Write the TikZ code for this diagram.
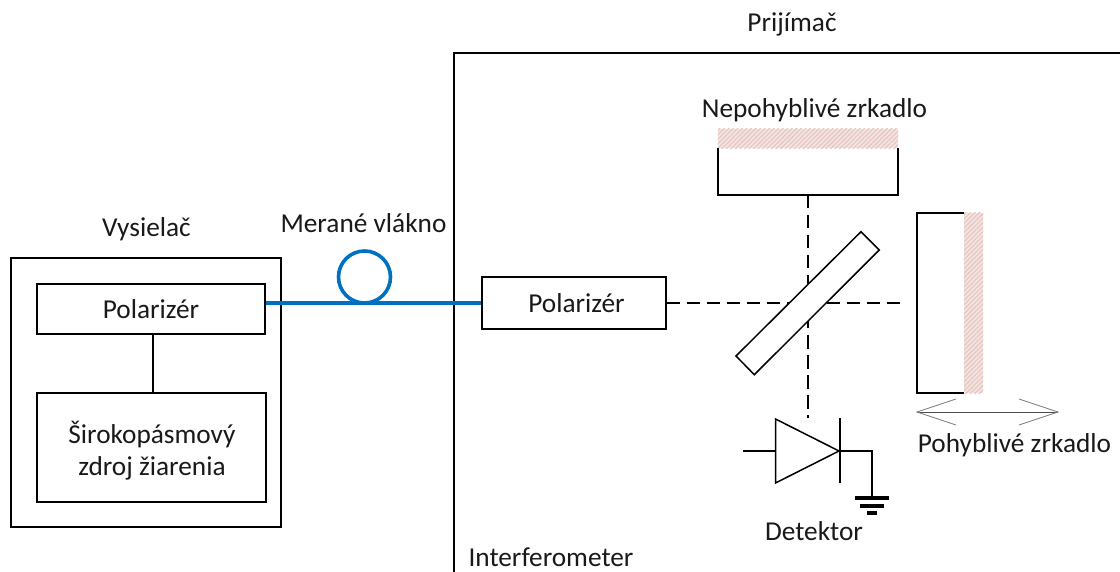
\documentclass[tikz,border=0pt]{standalone}
\usepackage{fontspec}
\setmainfont{Carlito}
\usetikzlibrary{patterns.meta,calc}
\definecolor{fiber}{HTML}{0070C0}
\definecolor{hatchc}{HTML}{F3E4E1}
\definecolor{hatchd}{HTML}{E6C4C0}
\tikzset{
  txt/.style={inner sep=0pt,align=center,font=\fontsize{27.3}{32.5}\selectfont,text=black!90},
  blk/.style={draw=black,line width=1.5pt,inner sep=0pt,align=center,font=\fontsize{27.3}{32.5}\selectfont,text=black!90},
  mirrorfill/.style={fill=hatchc,draw=none},
  mirrorhatch/.style={draw=none,pattern={Lines[angle=45,distance=3.2pt,line width=1.1pt]},pattern color=hatchd},
  beam/.style={black,line width=1.5pt,dash pattern=on 13.5pt off 6.5pt},
  wire/.style={black,line width=1.5pt},
  fib/.style={fiber,line width=3.6pt}
}
\begin{document}
\begin{tikzpicture}[x=1pt,y=-1pt]
\useasboundingbox (0,0) rectangle (1120,572);
% outer frames
\node[blk,minimum width=270pt,minimum height=269pt] (tx) at (146,392.5) {};
\draw[wire] (454,572) coordinate (ifb) -- (454,53) -- (1120,53) coordinate (ifr);
% transmitter
\node[blk,minimum width=228pt,minimum height=50pt] (pol1) at (151,309) {Polarizér};
\node[blk,minimum width=229pt,minimum height=109pt] (src) at (151.5,447.5) {};
\node[txt] (srct) at (152,450.5) {Širokopásmový\\zdroj žiarenia};
\draw[wire] (pol1.south -| 153,0) -- (src.north -| 153,0);
% receiver polarizer
\node[blk,minimum width=184pt,minimum height=52pt] (pol2) at (574,303) {};
\node[txt] (pol2t) at (576.5,303) {Polarizér};
% beams
\coordinate (fm) at (808,195);
\coordinate (det) at (808,418);
\coordinate (bh) at (905,303);
\draw[beam] (pol2.east) -- (bh);
\draw[beam] (fm) -- (det);
% splitter
\draw[wire,fill=white,line join=miter] (861,231.7) -- (879.3,250) -- (754.3,374.7) -- (736,356) -- cycle;
% fiber
\draw[fib] (pol1.east |- pol2.west) -- (pol2.west);
\draw[fib] (364.5,277) circle[radius=26];
% fixed mirror
\fill[mirrorfill] (717.5,129) rectangle (898,148.5);
\fill[mirrorhatch] (717.5,129) rectangle (898,148.5);
\draw[wire] (718,148) -- (718,195) -- (898,195) -- (898,148);
% moving mirror
\fill[mirrorfill] (964,213) rectangle (983,393);
\fill[mirrorhatch] (964,213) rectangle (983,393);
\draw[wire] (964,213) -- (917,213) -- (917,393) -- (964,393);
% motion arrow
\draw[black!70,line width=.9pt] (917,412) -- (1058,412);
\draw[black!50,line width=.8pt] (956,399) -- (917,412) -- (956,425);
\draw[black!50,line width=.8pt] (1019,399) -- (1058,412) -- (1019,425);
% detector
\draw[wire,line join=miter] (775.5,419) -- (775.5,483) -- (839,451) -- cycle;
\draw[wire] (840,418) -- (840,483);
\draw[wire] (743,451) -- (775.5,451);
\draw[black,line width=2pt] (840,451) -- (872,451) -- (872,497);
\draw[black,line width=4pt] (855,497.5) -- (889,497.5);
\draw[black,line width=4pt] (860,505.5) -- (884,505.5);
\draw[black,line width=4pt] (867,513) -- (877,513);
% labels
\node[txt] (l1) at (792,24) {Prijímač};
\node[txt] (l2) at (814.5,110) {Nepohyblivé zrkadlo};
\node[txt] (l3) at (146.5,229) {Vysielač};
\node[txt] (l4) at (363.5,223) {Merané vlákno};
\node[txt] (l5) at (1014.5,445) {Pohyblivé zrkadlo};
\node[txt] (l6) at (814,531) {Detektor};
\node[txt] (l7) at (551,557) {Interferometer};
\end{tikzpicture}
\end{document}
